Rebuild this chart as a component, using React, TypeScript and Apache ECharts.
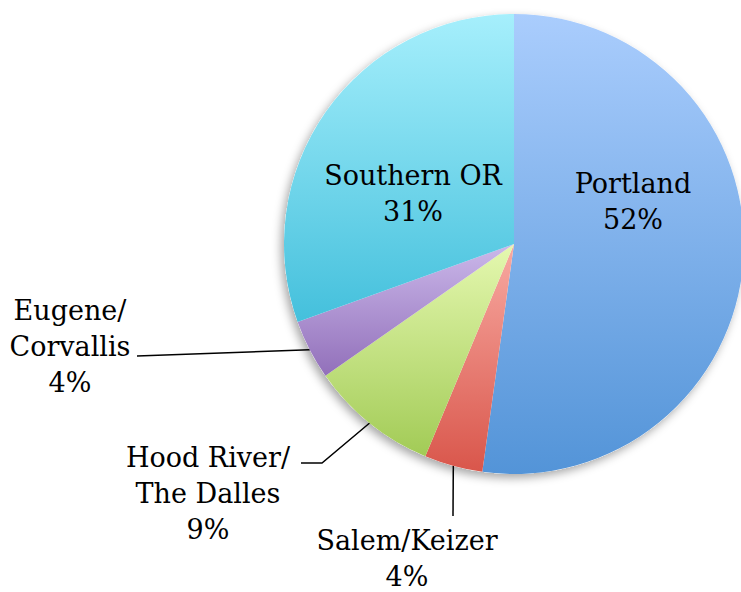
import React, { useEffect, useRef } from "react";
import * as echarts from "echarts";

const categories = [
  "Portland",
  "Salem/Keizer",
  "Hood River/\nThe Dalles",
  "Eugene/\nCorvallis",
  "Southern OR",
];
const shares = [52.2, 4.1, 9.0, 4.2, 30.5];

// slice gradients (top -> bottom)
const gradients = [
  ["#aacdfd", "#5394d8"],
  ["#f8aaa2", "#d9564b"],
  ["#e5f8b0", "#a2cb56"],
  ["#cbb8ea", "#9270ba"],
  ["#a6effc", "#44c0dc"],
];

const insideFlags = [true, false, false, false, true];

// label anchor positions and leader-line bends (layout, px)
const labelPlacement = [
  { x: 633, y: 201, line: null },
  { x: 407, y: 558, line: [[453, 516]] },
  { x: 208, y: 493, line: [[322, 463], [301, 463]] },
  { x: 70, y: 346, line: [[137, 356]] },
  { x: 413, y: 193, line: null },
];

const CENTER = [514, 244];
const RADIUS = 230;

export default function App() {
  const ref = useRef<HTMLDivElement>(null);
  useEffect(() => {
    if (!ref.current) return;
    const chart = echarts.init(ref.current, null, { renderer: "svg" });
    const total = shares.reduce((a, b) => a + b, 0);
    const data = categories.map((name, i) => ({
      name,
      value: shares[i],
      itemStyle: {
        color: new echarts.graphic.LinearGradient(0, 0, 0, 1, [
          { offset: 0, color: gradients[i][0] },
          { offset: 1, color: gradients[i][1] },
        ]),
      },
      label: { position: insideFlags[i] ? "inside" : "outside" },
      labelLine: { show: !insideFlags[i] },
    }));
    chart.setOption({
      animation: false,
      backgroundColor: "#ffffff",
      series: [
        {
          type: "pie",
          z: 1,
          silent: true,
          center: CENTER,
          radius: RADIUS,
          startAngle: 90,
          label: { show: false },
          labelLine: { show: false },
          itemStyle: {
            color: "#ffffff",
            shadowBlur: 10,
            shadowColor: "rgba(0,0,0,0.35)",
            shadowOffsetX: -3,
            shadowOffsetY: 4,
          },
          data: [{ name: "", value: total }],
        },
        {
          type: "pie",
          z: 2,
          center: CENTER,
          radius: RADIUS,
          startAngle: 90,
          clockwise: true,
          avoidLabelOverlap: false,
          percentPrecision: 0,
          label: {
            show: true,
            formatter: "{b}\n{d}%",
            fontFamily: "DejaVu Serif",
            fontSize: 27,
            lineHeight: 36,
            color: "#000000",
            align: "center",
          },
          labelLine: {
            show: true,
            length: 20,
            length2: 20,
            lineStyle: { color: "#000000", width: 1.5 },
          },
          labelLayout: (params: any) => {
            const p = labelPlacement[params.dataIndex];
            const out: any = {
              x: p.x,
              y: p.y,
              align: "center",
              verticalAlign: "middle",
            };
            if (p.line && params.labelLinePoints) {
              const start = params.labelLinePoints[0];
              out.labelLinePoints = [start, ...p.line];
            }
            return out;
          },
          data,
        },
      ],
    });
    return () => chart.dispose();
  }, []);
  return (
    <div
      ref={ref}
      style={{ position: "fixed", left: 0, top: 0, width: 741, height: 592 }}
    />
  );
}
